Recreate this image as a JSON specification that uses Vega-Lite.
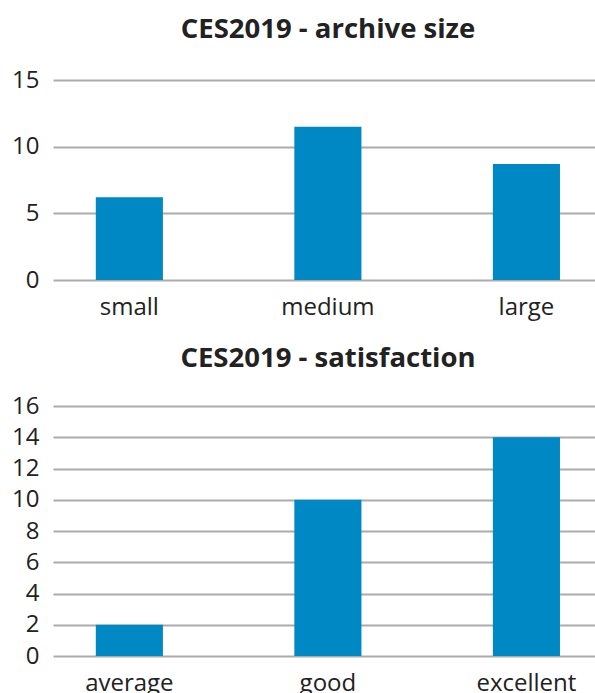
{
  "$schema": "https://vega.github.io/schema/vega-lite/v6.json",
  "padding": {"left": 11, "top": 15, "right": 0, "bottom": 0},
  "spacing": 25,
  "config": {
    "font": "Open Sans",
    "view": {"stroke": null},
    "title": {"font": "Open Sans", "fontSize": 27.5, "fontWeight": "bold", "color": "#222222", "anchor": "middle", "dx": 4},
    "axis": {"labelFont": "Open Sans", "labelColor": "#222222", "title": null, "domain": false, "ticks": false},
    "axisY": {"labelFontSize": 24, "grid": true, "gridColor": "#ababab", "gridWidth": 2, "labelPadding": 14},
    "axisX": {"labelFontSize": 24, "labelAngle": 0, "grid": false, "labelPadding": 15},
    "bar": {"color": "#0088C5"}
  },
  "vconcat": [
    {
      "title": {"text": "CES2019 - archive size", "offset": 25},
      "width": 542,
      "height": 200,
      "data": {"values": [
        {"size": "small", "count": 6.2},
        {"size": "medium", "count": 11.5},
        {"size": "large", "count": 8.7}
      ]},
      "mark": "bar",
      "encoding": {
        "x": {"field": "size", "type": "nominal", "sort": ["small", "medium", "large"], "scale": {"paddingInner": 0.662, "paddingOuter": 0.196, "align": 0.55}},
        "y": {"field": "count", "type": "quantitative", "scale": {"domain": [0, 15], "nice": false}, "axis": {"values": [0, 5, 10, 15]}}
      }
    },
    {
      "title": {"text": "CES2019 - satisfaction", "offset": 22},
      "width": 542,
      "height": 250,
      "data": {"values": [
        {"rating": "average", "count": 2},
        {"rating": "good", "count": 10},
        {"rating": "excellent", "count": 14}
      ]},
      "mark": "bar",
      "encoding": {
        "x": {"field": "rating", "type": "nominal", "sort": ["average", "good", "excellent"], "scale": {"paddingInner": 0.662, "paddingOuter": 0.196, "align": 0.55}},
        "y": {"field": "count", "type": "quantitative", "scale": {"domain": [0, 16], "nice": false}, "axis": {"values": [0, 2, 4, 6, 8, 10, 12, 14, 16]}}
      }
    }
  ]
}
